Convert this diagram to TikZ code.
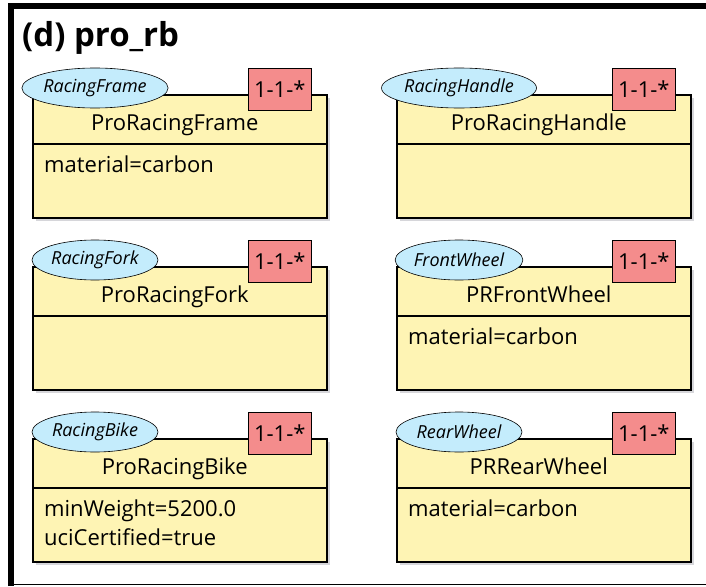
\documentclass[tikz,border=0pt]{standalone}
\usepackage{fontspec}
\setmainfont{Open Sans}
\usetikzlibrary{positioning,shapes.geometric}
\definecolor{boxfill}{HTML}{FEF4B4}
\definecolor{stereofill}{HTML}{C4ECFC}
\definecolor{tagfill}{HTML}{F48C8C}
\definecolor{shadowgray}{HTML}{D6D6DA}
\tikzset{
    classbox/.style={draw, line width=1.6pt, fill=boxfill, minimum width=294pt,
        minimum height=123pt, inner sep=0pt, anchor=north west},
    stereo/.style={ellipse, draw, line width=0.6pt, fill=stereofill, minimum width=126pt,
        minimum height=40pt, inner sep=0pt, font=\itshape\fontsize{18}{20}\selectfont},
    tagbox/.style={draw, line width=0.6pt, fill=tagfill, minimum width=63pt,
        minimum height=42pt, inner sep=0pt, anchor=north east, font=\fontsize{22}{24}\selectfont},
    cname/.style={font=\fontsize{22}{24}\selectfont, inner sep=0pt, anchor=base},
    attr/.style={font=\fontsize{22}{29}\selectfont, align=left, anchor=north west, inner sep=0pt}
}
\begin{document}
\begin{tikzpicture}[x=1pt,y=-1pt]
    \useasboundingbox (0,0) rectangle (706,586);
    % frame
    \draw[line width=6pt] (11,586) -- (11,6) -- (706,6);
    \draw[line width=0.8pt] (14,584) -- (706,584);
    \node[anchor=base west, inner sep=0pt, font=\bfseries\fontsize{33}{36}\selectfont] (title) at (22,46) {(d) pro\_rb};
    % class boxes
    \foreach \id/\bx/\by/\st/\cn/\at in {
        frame/32/94/RacingFrame/ProRacingFrame/{material=carbon},
        handle/396/94/RacingHandle/ProRacingHandle/{},
        fork/32/266/RacingFork/ProRacingFork/{},
        front/396/266/FrontWheel/PRFrontWheel/{material=carbon},
        bike/32/438/RacingBike/ProRacingBike/{minWeight=5200.0\\uciCertified=true},
        rear/396/438/RearWheel/PRRearWheel/{material=carbon}}{
        \fill[shadowgray] (\bx+4,\by+4) rectangle ++(294,123);
        \node[classbox] (\id) at (\bx,\by) {};
        \draw[line width=1.6pt] ([yshift=-50pt]\id.north west) -- ([yshift=-50pt]\id.north east);
        \node[stereo] (\id-st) at ([xshift=63pt,yshift=6pt]\id.north west) {\st};
        \node[tagbox] (\id-tag) at ([xshift=-16pt,yshift=26pt]\id.north east) {1-1-*};
        \node[cname] (\id-name) at ([xshift=-5pt,yshift=-36pt]\id.north) {\cn};
        \node[attr] (\id-attr) at ([xshift=12pt,yshift=-62pt]\id.north west) {\at};
    }
\end{tikzpicture}
\end{document}
